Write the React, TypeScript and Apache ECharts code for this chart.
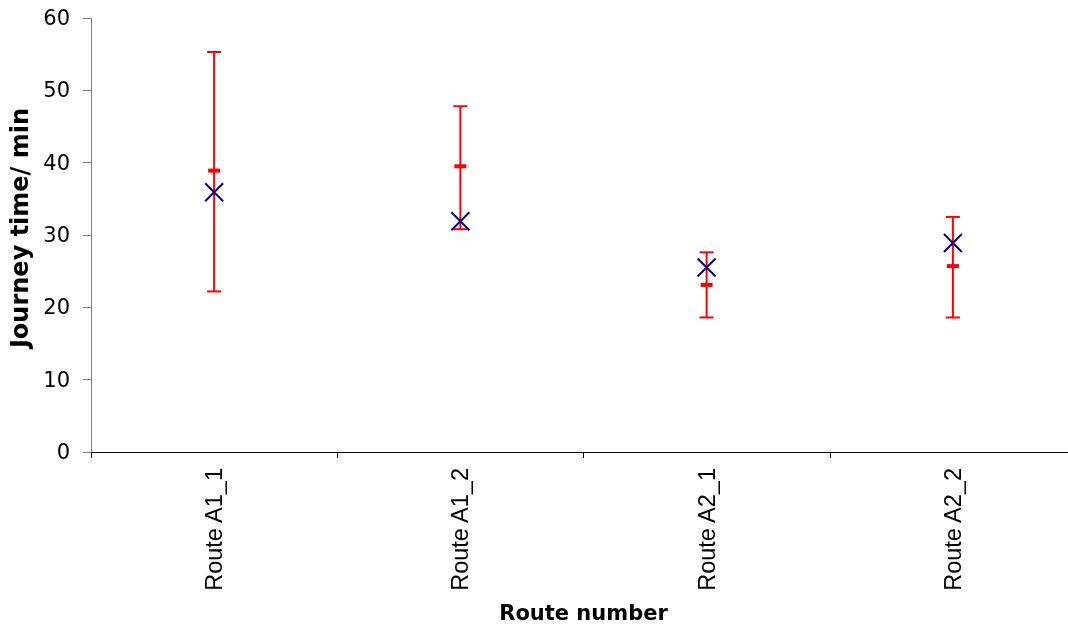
import React, { useEffect, useRef } from "react";
import * as echarts from "echarts";

const categories = ["Route A1_1", "Route A1_2", "Route A2_1", "Route A2_2"];
const meanValues = [35.9, 31.9, 25.5, 28.9];
const lowValues = [22.2, 30.8, 18.6, 18.6];
const highValues = [55.3, 47.8, 27.6, 32.5];
const midValues = [38.9, 39.5, 23.1, 25.7];

export default function App() {
  const ref = useRef<HTMLDivElement>(null);
  useEffect(() => {
    const chart = echarts.init(ref.current!, null, { renderer: "svg" });
    const errData = categories.map((_, i) => [i, lowValues[i], highValues[i], midValues[i]]);
    const meanData = categories.map((_, i) => [i, meanValues[i]]);
    chart.setOption({
      animation: false,
      grid: { left: 91, right: 0, top: 18, bottom: 174 },
      xAxis: {
        type: "category",
        data: categories,
        name: "Route number",
        nameLocation: "middle",
        nameGap: 150,
        nameTextStyle: { fontFamily: "DejaVu Sans", fontWeight: "bold", fontSize: 21, color: "#000" },
        axisLine: { lineStyle: { color: "#000", width: 1 } },
        axisTick: { show: true, length: 6, lineStyle: { color: "#000" }, alignWithLabel: false },
        axisLabel: { rotate: 90, margin: 16, fontFamily: "Liberation Sans", fontSize: 23.5, color: "#000" },
        splitLine: { show: false },
      },
      yAxis: {
        type: "value",
        min: 0,
        max: 60,
        interval: 10,
        name: "Journey time/ min",
        nameLocation: "middle",
        nameGap: 55,
        nameTextStyle: { fontFamily: "DejaVu Sans", fontWeight: "bold", fontSize: 24, color: "#000", padding: [0, 0, 0, 14] },
        axisLine: { show: true, lineStyle: { color: "#808080", width: 1 } },
        axisTick: { show: true, length: 8, lineStyle: { color: "#808080" } },
        axisLabel: { margin: 21, fontFamily: "DejaVu Sans", fontSize: 21, color: "#000" },
        splitLine: { show: false },
      },
      series: [
        {
          type: "custom",
          data: errData,
          encode: { x: 0, y: [1, 2, 3] },
          renderItem: (params: any, api: any) => {
            const x = api.value(0);
            const lo = api.coord([x, api.value(1)]);
            const hi = api.coord([x, api.value(2)]);
            const mid = api.coord([x, api.value(3)]);
            const red = "#ff0000";
            const cap = 7;
            return {
              type: "group",
              children: [
                { type: "line", shape: { x1: lo[0], y1: lo[1], x2: hi[0], y2: hi[1] }, style: { stroke: red, lineWidth: 2 } },
                { type: "line", shape: { x1: hi[0] - cap, y1: hi[1], x2: hi[0] + cap, y2: hi[1] }, style: { stroke: red, lineWidth: 2 } },
                { type: "line", shape: { x1: lo[0] - cap, y1: lo[1], x2: lo[0] + cap, y2: lo[1] }, style: { stroke: red, lineWidth: 2 } },
                { type: "line", shape: { x1: mid[0] - 6, y1: mid[1], x2: mid[0] + 6, y2: mid[1] }, style: { stroke: red, lineWidth: 4 } },
              ],
            };
          },
          z: 2,
        },
        {
          type: "custom",
          data: meanData,
          encode: { x: 0, y: 1 },
          renderItem: (params: any, api: any) => {
            const p = api.coord([api.value(0), api.value(1)]);
            const s = 9;
            const blue = "#000080";
            return {
              type: "group",
              children: [
                { type: "line", shape: { x1: p[0] - s, y1: p[1] - s, x2: p[0] + s, y2: p[1] + s }, style: { stroke: blue, lineWidth: 2 } },
                { type: "line", shape: { x1: p[0] - s, y1: p[1] + s, x2: p[0] + s, y2: p[1] - s }, style: { stroke: blue, lineWidth: 2 } },
              ],
            };
          },
          z: 3,
        },
      ],
    });
    return () => chart.dispose();
  }, []);
  return <div ref={ref} style={{ position: "fixed", left: 0, top: 0, width: 1076, height: 628 }} />;
}
